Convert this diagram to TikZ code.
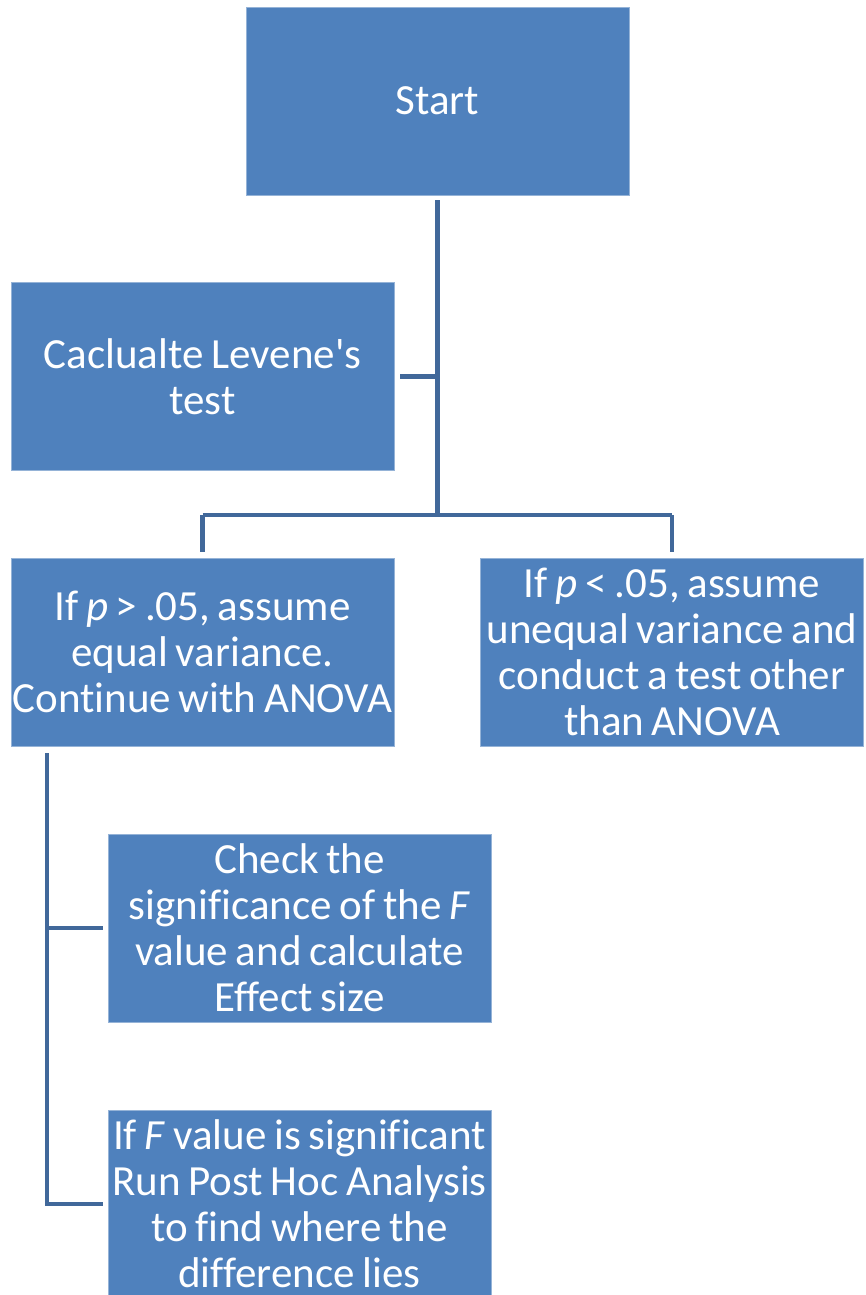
\documentclass[tikz,border=0pt]{standalone}
\usepackage{fontspec}
\setmainfont{Carlito}[Ligatures=NoCommon]
\definecolor{boxblue}{HTML}{4F81BD}
\definecolor{linkblue}{HTML}{41689A}
\newcommand{\boxfont}{\fontsize{43}{46}\selectfont\spaceskip=0.18em plus 0.05em minus 0.05em}
\begin{document}
\begin{tikzpicture}[x=1pt,y=-1pt,
  stepbox/.style={rectangle, fill=boxblue, draw=boxblue!60!white, line width=0.8pt,
    minimum width=383pt, minimum height=188pt, inner sep=0pt, align=center,
    text=white, font=\boxfont},
  link/.style={draw=linkblue, line width=4.5pt}]
\useasboundingbox (0,0) rectangle (865,1295);

% boxes
\node[stepbox] (start)  at (437.5,101) {Start};
\node[stepbox] (levene) at (202.5,376.5) {Caclualte Levene\textquotesingle s\\test};
\node[stepbox] (equal)  at (202.5,652) {If \textit{p} > .05, assume\\equal variance.\\Continue with ANOVA};
\node[stepbox] (unequal) at (672,652) {If \textit{p} < .05, assume\\unequal variance and\\conduct a test other\\than ANOVA};
\node[stepbox] (check)  at (299.5,928) {Check the\\significance of the \textit{F}\\value and calculate\\Effect size};
\node[stepbox] (posthoc) at (299.5,1204) {If \textit{F} value is significant\\Run Post Hoc Analysis\\to find where the\\difference lies};

% junction points
\coordinate (trunk) at (437.5,515);
\coordinate (tleft) at (202.5,515);
\coordinate (tright) at (672,515);
\coordinate (rail) at (47,753);

% connectors
\draw[link] ([yshift=-5pt]start.south) -- (trunk);
\draw[link] ([xshift=6pt]levene.east) -- (levene.east -| trunk);
\draw[link] (tleft) -- (tright);
\draw[link] (tleft) -- ([yshift=6pt]equal.north);
\draw[link] (tright) -- ([yshift=6pt]unequal.north);
\draw[link] (rail) -- (rail |- posthoc.west) -- ([xshift=-5pt]posthoc.west);
\draw[link] (rail |- check.west) -- ([xshift=-5pt]check.west);
\end{tikzpicture}
\end{document}
